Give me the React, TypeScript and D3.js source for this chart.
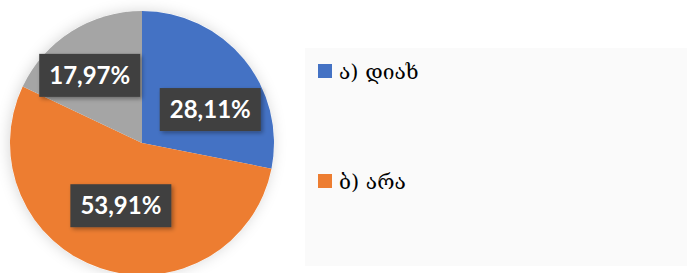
import React, { useRef, useEffect } from "react";
import * as d3 from "d3";

const categories = ["ა) დიახ", "ბ) არა", "გ) არ ვიცი"];
const values = [28.11, 53.91, 17.97];
const labels = ["28,11%", "53,91%", "17,97%"];
const colors = ["#4472C4", "#ED7D31", "#A5A5A5"];
const legendItems = ["ა) დიახ", "ბ) არა"];

function App() {
  const svgRef = useRef<SVGSVGElement>(null);

  useEffect(() => {
    const width = 687,
      height = 273;
    const cx = 142,
      cy = 143,
      radius = 132;

    const svg = d3.select(svgRef.current);
    svg.selectAll("*").remove();
    svg.attr("width", width).attr("height", height);

    const defs = svg.append("defs");
    const pieShadow = defs
      .append("filter")
      .attr("id", "pieShadow")
      .attr("x", "-20%")
      .attr("y", "-20%")
      .attr("width", "140%")
      .attr("height", "140%");
    pieShadow
      .append("feDropShadow")
      .attr("dx", -1)
      .attr("dy", 0)
      .attr("stdDeviation", 7)
      .attr("flood-color", "#000")
      .attr("flood-opacity", 0.16);

    const boxShadow = defs
      .append("filter")
      .attr("id", "boxShadow")
      .attr("x", "-20%")
      .attr("y", "-30%")
      .attr("width", "140%")
      .attr("height", "160%");
    boxShadow
      .append("feDropShadow")
      .attr("dx", 2)
      .attr("dy", 2)
      .attr("stdDeviation", 2)
      .attr("flood-color", "#000")
      .attr("flood-opacity", 0.35);

    svg.append("rect").attr("width", width).attr("height", height).attr("fill", "#ffffff");

    // legend panel
    svg
      .append("rect")
      .attr("x", 305)
      .attr("y", 48)
      .attr("width", width - 305)
      .attr("height", 218)
      .attr("fill", "#fafafa");

    const data = categories.map((c, i) => ({ name: c, value: values[i], label: labels[i], color: colors[i] }));

    const pie = d3
      .pie<any>()
      .value((d) => d.value)
      .sort(null);
    const arc = d3.arc<any>().innerRadius(0).outerRadius(radius);

    const g = svg.append("g").attr("transform", `translate(${cx},${cy})`);

    g.append("circle").attr("r", radius).attr("fill", "#fff").attr("filter", "url(#pieShadow)");

    const arcs = pie(data);
    g.selectAll(".slice")
      .data(arcs)
      .join("path")
      .attr("class", "slice")
      .attr("d", arc)
      .attr("fill", (d) => d.data.color);

    // label boxes
    const labelArc = d3.arc<any>().innerRadius(radius * 0.62).outerRadius(radius * 0.62);
    const offsets = [
      [5, 18.5],
      [4.5, -15],
      [-8.5, 1.5]
    ];
    const boxW = 101,
      boxH = 43;
    const lbl = g
      .selectAll(".lbl")
      .data(arcs)
      .join("g")
      .attr("class", "lbl")
      .attr("transform", (d, i) => {
        const [x, y] = labelArc.centroid(d);
        return `translate(${x + offsets[i][0]},${y + offsets[i][1]})`;
      });
    lbl
      .append("rect")
      .attr("x", -boxW / 2)
      .attr("y", -boxH / 2)
      .attr("width", boxW)
      .attr("height", boxH)
      .attr("fill", "#404040")
      .attr("filter", "url(#boxShadow)");
    lbl
      .append("text")
      .attr("text-anchor", "middle")
      .attr("dy", "0.36em")
      .attr("fill", "#ffffff")
      .style("font-family", "Lato, 'Open Sans', sans-serif")
      .style("font-weight", "bold")
      .style("font-size", "24px")
      .text((d) => d.data.label);

    // legend
    const legend = svg
      .selectAll(".legend")
      .data(legendItems)
      .join("g")
      .attr("class", "legend")
      .attr("transform", (d, i) => `translate(318,${64 + i * 110})`);
    legend
      .append("rect")
      .attr("width", 14)
      .attr("height", 14)
      .attr("fill", (d, i) => colors[i]);
    legend
      .append("text")
      .attr("x", 21)
      .attr("y", 15)
      .attr("fill", "#000")
      .style("font-family", "'DejaVu Serif', serif")
      .style("font-size", "21px")
      .text((d) => d);
  }, []);

  return (
    <div style={{ position: "fixed", left: 0, top: 0 }}>
      <svg ref={svgRef} style={{ display: "block" }}></svg>
    </div>
  );
}

export default App;
